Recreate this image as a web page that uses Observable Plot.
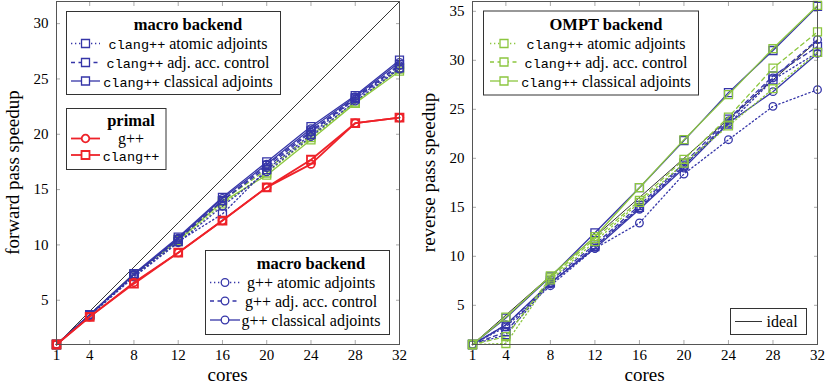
<!DOCTYPE html>
<html><head><meta charset="utf-8">
<script src="https://cdn.jsdelivr.net/npm/d3@7"></script>
<script src="https://cdn.jsdelivr.net/npm/@observablehq/plot@0.6"></script>
<style>
body{margin:0;background:#fff}
#wrap{display:flex;width:830px;height:386px;overflow:hidden}
</style>
</head><body><div id="wrap"></div>
<script>
// ---------- data ----------
const cores = [1, 4, 8, 12, 16, 20, 24, 28, 32];
const xTicks = [1, 4, 8, 12, 16, 20, 24, 28, 32];
const yTicksFwd = [5, 10, 15, 20, 25, 30];
const yTicksRev = [5, 10, 15, 20, 25, 30, 35];

// forward pass speedup
const fwdMacroClangAtomic    = [1, 3.6, 7.2, 10.3, 12.8, 16.8, 20.0, 23.2, 26.0];
const fwdMacroClangAcc       = [1, 3.7, 7.3, 10.5, 14.0, 17.2, 20.3, 23.3, 26.3];
const fwdMacroClangClassical = [1, 3.7, 7.4, 10.7, 14.3, 17.5, 20.7, 23.5, 26.7];
const fwdMacroGppAtomic      = [1, 3.6, 7.1, 10.2, 13.5, 16.6, 19.8, 23.0, 25.9];
const fwdMacroGppAcc         = [1, 3.7, 7.3, 10.5, 14.0, 17.0, 20.2, 23.2, 26.2];
const fwdMacroGppClassical   = [1, 3.7, 7.3, 10.6, 14.2, 17.3, 20.5, 23.4, 26.5];
const fwdOmptClangAtomic     = [1, 3.6, 7.2, 10.3, 13.7, 16.5, 19.7, 22.8, 26.0];
const fwdOmptClangAcc        = [1, 3.7, 7.3, 10.5, 14.0, 16.8, 19.9, 22.9, 25.9];
const fwdOmptClangClassical  = [1, 3.7, 7.4, 10.4, 13.9, 16.3, 19.5, 22.8, 25.7];
const fwdPrimalGpp           = [1, 3.5, 6.6, 9.3, 12.2, 15.2, 17.3, 21.0, 21.5];
const fwdPrimalClang         = [1, 3.5, 6.5, 9.3, 12.2, 15.2, 17.7, 21.0, 21.5];

// reverse pass speedup
const revOmptClangAtomic     = [1, 1.1, 7.6, 11.5, 15.5, 19.5, 23.3, 27.1, 30.8];
const revOmptClangAcc        = [1, 1.8, 7.8, 11.8, 15.7, 19.9, 24.2, 29.2, 32.9];
const revOmptClangClassical  = [1, 3.8, 8.0, 12.0, 17.0, 21.9, 26.5, 31.2, 35.6];
const revMacroClangAtomic    = [1, 2.0, 7.3, 11.0, 15.0, 19.3, 23.5, 28.0, 30.8];
const revMacroClangAcc       = [1, 2.3, 7.5, 11.2, 15.2, 19.5, 24.0, 28.4, 31.4];
const revMacroClangClassical = [1, 3.7, 7.9, 12.4, 17.0, 21.8, 26.7, 31.0, 35.5];
const revMacroGppAtomic      = [1, 2.8, 7.0, 10.8, 13.4, 18.4, 21.9, 25.3, 27.0];
const revMacroGppAcc         = [1, 3.0, 7.2, 11.0, 14.9, 19.2, 23.8, 28.2, 32.1];
const revMacroGppClassical   = [1, 3.0, 7.3, 10.8, 14.8, 19.0, 23.6, 26.8, 30.7];

// ---------- styles ----------
const BLUE = "#3535a8", GREEN = "#8cc63f", RED = "#ee2229";
const DOT = "1.3,2.7", DASH = "4,3.5", SOLID = null;
const SERIF = "Liberation Serif, Times New Roman, Times, Tinos, DejaVu Serif, serif";
const MONO = "Liberation Mono, DejaVu Sans Mono, monospace";

function S(values, color, dash, symbol, width = 1.3) { return {values, color, dash, symbol, width}; }

const fwdSeries = [
  S(fwdOmptClangAtomic, GREEN, DOT, "square"),
  S(fwdOmptClangAcc, GREEN, DASH, "square"),
  S(fwdOmptClangClassical, GREEN, SOLID, "square"),
  S(fwdMacroGppAtomic, BLUE, DOT, "circle"),
  S(fwdMacroGppAcc, BLUE, DASH, "circle"),
  S(fwdMacroGppClassical, BLUE, SOLID, "circle"),
  S(fwdMacroClangAtomic, BLUE, DOT, "square"),
  S(fwdMacroClangAcc, BLUE, DASH, "square"),
  S(fwdMacroClangClassical, BLUE, SOLID, "square"),
  S(fwdPrimalGpp, RED, SOLID, "circle", 1.8),
  S(fwdPrimalClang, RED, SOLID, "square", 1.8)
];
const revSeries = [
  S(revMacroGppAtomic, BLUE, DOT, "circle"),
  S(revMacroGppAcc, BLUE, DASH, "circle"),
  S(revMacroGppClassical, BLUE, SOLID, "circle"),
  S(revMacroClangAtomic, BLUE, DOT, "square"),
  S(revMacroClangAcc, BLUE, DASH, "square"),
  S(revMacroClangClassical, BLUE, SOLID, "square"),
  S(revOmptClangAtomic, GREEN, DOT, "square"),
  S(revOmptClangAcc, GREEN, DASH, "square"),
  S(revOmptClangClassical, GREEN, SOLID, "square")
];

function panel({series, yDomain, yTicks, marginLeft, marginRight}) {
  const marks = [
    Plot.axisX(xTicks, {tickSize: 0, tickPadding: 5, fontSize: 15, fontFamily: SERIF, label: null}),
    Plot.axisX(xTicks, {tickSize: -4, tickFormat: () => "", stroke: "#aaa", label: null}),
    Plot.axisX(xTicks, {anchor: "top", tickSize: -4, tickFormat: () => "", stroke: "#aaa", label: null}),
    Plot.axisY(yTicks, {tickSize: 0, tickPadding: 8, fontSize: 15, fontFamily: SERIF, label: null}),
    Plot.axisY(yTicks, {tickSize: -4, tickFormat: () => "", stroke: "#aaa", label: null}),
    Plot.axisY(yTicks, {anchor: "right", tickSize: -4, tickFormat: () => "", stroke: "#aaa", label: null}),
    Plot.line(cores, {x: d => d, y: d => d, stroke: "black", strokeWidth: 0.8})
  ];
  for (const s of series) {
    marks.push(Plot.line(s.values, {x: (d, i) => cores[i], y: d => d, stroke: s.color,
      strokeWidth: s.width, strokeDasharray: s.dash}));
    marks.push(Plot.dot(s.values, {x: (d, i) => cores[i], y: d => d, stroke: s.color, fill: "none",
      symbol: s.symbol, r: s.symbol === "square" ? 4.5 : 3.8, strokeWidth: s.width}));
  }
  marks.push(Plot.frame({stroke: "#555", strokeWidth: 1}));
  return Plot.plot({
    width: 415, height: 386,
    marginTop: 1, marginBottom: 42, marginLeft, marginRight,
    style: {fontFamily: SERIF, fontSize: "15px", color: "black", background: "white"},
    x: {type: "linear", domain: [1, 32]},
    y: {type: "linear", domain: yDomain},
    marks
  });
}

function axisLabels(svg, xc, ylabelX, ylabel) {
  const g = d3.select(svg);
  g.append("text").attr("x", xc).attr("y", 381).attr("text-anchor", "middle")
    .attr("font-family", SERIF).attr("font-size", 19).text("cores");
  g.append("text").attr("transform", `translate(${ylabelX},172.5) rotate(-90)`)
    .attr("text-anchor", "middle").attr("font-family", SERIF).attr("font-size", 19).text(ylabel);
}

function legend(svg, box) {
  const g = d3.select(svg).append("g").attr("font-family", SERIF);
  g.append("rect").attr("x", box.x0).attr("y", box.y0).attr("width", box.x1 - box.x0)
    .attr("height", box.y1 - box.y0).attr("fill", "white").attr("stroke", "#333").attr("stroke-width", 1);
  if (box.title) {
    g.append("text").attr("x", box.tx).attr("y", box.titleY).attr("text-anchor", "middle")
      .attr("dy", "0.35em").attr("font-family", SERIF).attr("font-weight", "bold")
      .attr("font-size", 16.5).text(box.title);
  }
  for (const r of box.rows) {
    const lm = (box.l0 + box.l1) / 2;
    g.append("line").attr("x1", box.l0).attr("x2", box.l1).attr("y1", r.y).attr("y2", r.y)
      .attr("stroke", r.color).attr("stroke-width", r.width || 1.3)
      .attr("stroke-dasharray", r.dash || null);
    if (r.symbol) {
      const sym = d3.symbol(r.symbol === "square" ? d3.symbolSquare : d3.symbolCircle,
        r.symbol === "square" ? Math.PI * 4.5 * 4.5 : Math.PI * 3.8 * 3.8);
      g.append("path").attr("d", sym()).attr("transform", `translate(${lm},${r.y})`)
        .attr("fill", "white").attr("stroke", r.color).attr("stroke-width", r.width || 1.3);
    }
    const t = g.append("text").attr("x", r.tx !== undefined ? r.tx : box.tx).attr("y", r.y).attr("dy", "0.35em")
      .attr("text-anchor", r.anchor || "middle").attr("font-family", SERIF).attr("font-size", 16);
    if (r.mono) t.append("tspan").attr("font-family", MONO).attr("font-size", 13.5).text(r.mono);
    if (r.text) t.append("tspan").text(r.text);
  }
}

const wrap = document.getElementById("wrap");

// left panel
const left = panel({series: fwdSeries, yDomain: [1, 32], yTicks: yTicksFwd, marginLeft: 56, marginRight: 16});
wrap.appendChild(left);
axisLabels(left, 227.5, 19, "forward pass speedup");
legend(left, {x0: 66.5, y0: 11.5, x1: 280.5, y1: 94.5, title: "macro backend", titleY: 24, tx: 188, l0: 71, l1: 100,
  rows: [
    {y: 43.5, mono: "clang++", text: " atomic adjoints", color: BLUE, dash: DOT, symbol: "square"},
    {y: 62.5, mono: "clang++", text: " adj. acc. control", color: BLUE, dash: DASH, symbol: "square"},
    {y: 81, mono: "clang++", text: " classical adjoints", color: BLUE, dash: SOLID, symbol: "square"}
  ]});
legend(left, {x0: 66.5, y0: 108.5, x1: 166, y1: 169.5, title: "primal", titleY: 120.5, tx: 131, l0: 71, l1: 100,
  rows: [
    {y: 138.5, text: "g++", color: RED, dash: SOLID, symbol: "circle", width: 1.8},
    {y: 155, mono: "clang++", color: RED, dash: SOLID, symbol: "square", width: 1.8}
  ]});
legend(left, {x0: 205.5, y0: 250.5, x1: 389.5, y1: 334.5, title: "macro backend", titleY: 263.5, tx: 311, l0: 210, l1: 240,
  rows: [
    {y: 282.5, text: "g++ atomic adjoints", color: BLUE, dash: DOT, symbol: "circle"},
    {y: 301, text: "g++ adj. acc. control", color: BLUE, dash: DASH, symbol: "circle"},
    {y: 320, text: "g++ classical adjoints", color: BLUE, dash: SOLID, symbol: "circle"}
  ]});

// right panel
const right = panel({series: revSeries, yDomain: [1, 36], yTicks: yTicksRev, marginLeft: 57, marginRight: 13});
wrap.appendChild(right);
axisLabels(right, 229.5, 20, "reverse pass speedup");
legend(right, {x0: 68.5, y0: 11, x1: 283.5, y1: 95, title: "OMPT backend", titleY: 24, tx: 191, l0: 75, l1: 103,
  rows: [
    {y: 43.5, mono: "clang++", text: " atomic adjoints", color: GREEN, dash: DOT, symbol: "square"},
    {y: 62, mono: "clang++", text: " adj. acc. control", color: GREEN, dash: DASH, symbol: "square"},
    {y: 81, mono: "clang++", text: " classical adjoints", color: GREEN, dash: SOLID, symbol: "square"}
  ]});
legend(right, {x0: 315.5, y0: 308.5, x1: 391.5, y1: 334.5, tx: 352, l0: 320, l1: 347,
  rows: [
    {y: 321.5, text: "ideal", color: "black", dash: SOLID, width: 0.8, tx: 351.5, anchor: "start"}
  ]});
</script>
</body></html>
